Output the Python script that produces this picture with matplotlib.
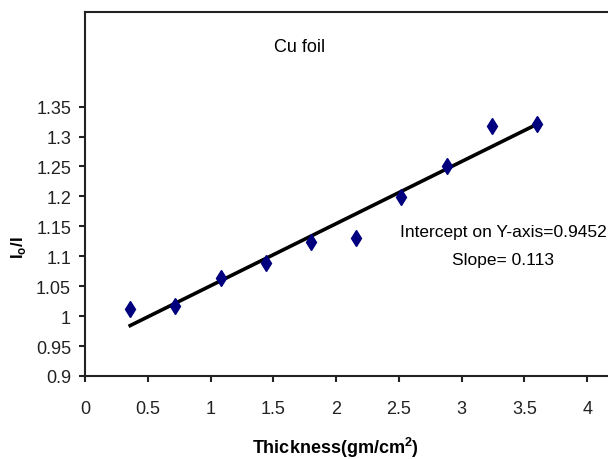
import numpy as np
import matplotlib
matplotlib.use("Agg")
import matplotlib.pyplot as plt

plt.rcParams['font.family'] = ['Liberation Sans', 'DejaVu Sans']

# datos
thickness = [0.36, 0.72, 1.08, 1.44, 1.80, 2.16, 2.52, 2.88, 3.24, 3.60]
ratio = [1.012, 1.017, 1.063, 1.089, 1.123, 1.131, 1.199, 1.251, 1.318, 1.321]
xticks = [0, 0.5, 1, 1.5, 2, 2.5, 3, 3.5, 4]
yticks = [0.9, 0.95, 1, 1.05, 1.1, 1.15, 1.2, 1.25, 1.3, 1.35]
ytick_labels = ["0.9", "0.95", "1", "1.05", "1.1", "1.15", "1.2", "1.25", "1.3", "1.35"]

fig = plt.figure(figsize=(6.08, 4.60), dpi=100)
ax = fig.add_axes([85 / 608, 83 / 460, 565 / 608, 364 / 460])

# recta de ajuste
m, b = np.polyfit(thickness, ratio, 1)
xs = np.array([thickness[0], thickness[-1]])
ax.plot(xs, m * xs + b, color="black", linewidth=2.6, zorder=2)
ax.plot(thickness, ratio, linestyle="none", marker="d", markersize=8,
        color="#00007f", zorder=3)

ax.set_xlim(0, 4.5)
ax.set_ylim(0.9, 1.508)
ax.set_xticks(xticks)
ax.set_xticklabels([str(t) for t in xticks])
ax.set_yticks(yticks)
ax.set_yticklabels(ytick_labels)

for s in ["left", "bottom", "top", "right"]:
    ax.spines[s].set_linewidth(1.5)
    ax.spines[s].set_color("#222222")

ax.tick_params(axis="both", direction="out", length=4, width=1.5, labelsize=13, colors="#222222")
ax.tick_params(axis="x", pad=13)
ax.tick_params(axis="y", pad=6)

ax.set_xlabel("Thickness(gm/cm$^\\mathregular{2}$)", fontsize=13, fontweight="bold", va="center")
ax.xaxis.set_label_coords(0.4425, -0.195)
ax.set_ylabel("I$_\\mathregular{o}$/I", fontsize=12, fontweight="bold", va="center")
ax.yaxis.set_label_coords(-0.118, 0.354)

ax.text(1.71, 1.45, "Cu foil", fontsize=13, ha="center", va="center")
ax.text(3.33, 1.141, "Intercept on Y-axis=0.9452", fontsize=12.5, ha="center", va="center")
ax.text(3.33, 1.094, "Slope= 0.113", fontsize=12.5, ha="center", va="center")

fig.savefig("out.png", dpi=100)
